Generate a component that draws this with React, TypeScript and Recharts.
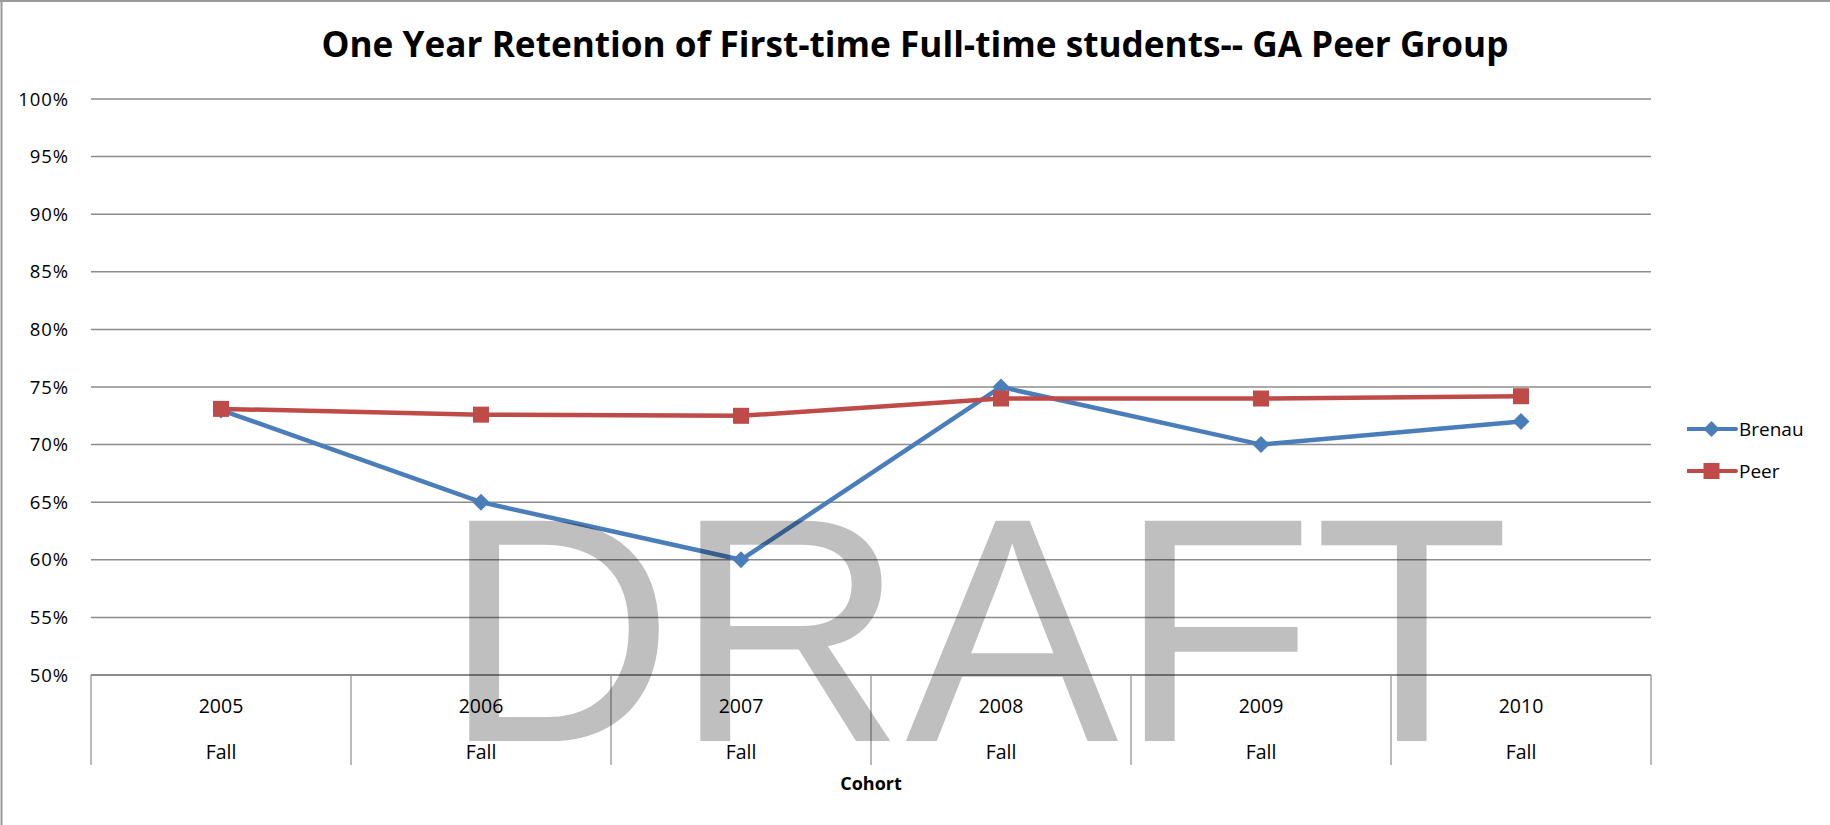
import { LineChart, Line, XAxis, YAxis, CartesianGrid, Legend, Label } from "recharts";

const years = ["2005", "2006", "2007", "2008", "2009", "2010"];
const terms = ["Fall", "Fall", "Fall", "Fall", "Fall", "Fall"];
const brenau = [73, 65, 60, 75, 70, 72];
const peer = [73.1, 72.6, 72.5, 74.0, 74.0, 74.2];
const yTicks = [50, 55, 60, 65, 70, 75, 80, 85, 90, 95, 100];

const data = years.map((year, i) => ({
  year,
  term: terms[i],
  Brenau: brenau[i],
  Peer: peer[i],
}));

const BLUE = "#4a7ebb";
const RED = "#be4b48";
const GRID = "#8c8c8c";
const FONT = "'Open Sans', sans-serif";
const BAND = 260;
const LEGEND_W = 140;

function Diamond(props: any) {
  const { cx, cy, index } = props;
  if (cx == null || cy == null) return <g key={`b-${index}`} />;
  const r = 8.5;
  return (
    <path
      key={`b-${index}`}
      d={`M${cx},${cy - r}L${cx + r},${cy}L${cx},${cy + r}L${cx - r},${cy}Z`}
      fill={BLUE}
    />
  );
}

function Square(props: any) {
  const { cx, cy, index } = props;
  if (cx == null || cy == null) return <g key={`p-${index}`} />;
  return <rect key={`p-${index}`} x={cx - 8} y={cy - 8} width={16} height={16} fill={RED} />;
}

function CohortTick(props: any) {
  const { x, y, payload, index } = props;
  const half = BAND / 2;
  return (
    <g>
      <line x1={x - half} y1={y} x2={x - half} y2={y + 90} stroke={GRID} strokeWidth={1.2} />
      {index === years.length - 1 && (
        <line x1={x + half} y1={y} x2={x + half} y2={y + 90} stroke={GRID} strokeWidth={1.2} />
      )}
      <text x={x} y={y + 30} textAnchor="middle" dominantBaseline="central" fontFamily={FONT} fontSize={19.5} fill="#000">
        {payload.value}
      </text>
      <text x={x} y={y + 76} textAnchor="middle" dominantBaseline="central" fontFamily={FONT} fontSize={19.5} fill="#000">
        {terms[index]}
      </text>
    </g>
  );
}

function LegendBox(props: any) {
  const items = props.payload || [];
  return (
    <div style={{ fontFamily: FONT, fontSize: 19, color: "#000" }}>
      {items.map((entry: any, i: number) => (
        <div key={entry.value} style={{ display: "flex", alignItems: "center", height: 42 }}>
          <svg width={52} height={20}>
            <line x1={0} y1={10} x2={49} y2={10} stroke={entry.color} strokeWidth={4} strokeLinecap="round" />
            {i === 0 ? (
              <path d="M24.5,2L32.5,10L24.5,18L16.5,10Z" fill={entry.color} />
            ) : (
              <rect x={16.5} y={2} width={16} height={16} fill={entry.color} />
            )}
          </svg>
          <span>{entry.value}</span>
        </div>
      ))}
    </div>
  );
}

export default function App() {
  return (
    <div style={{ position: "absolute", left: 0, top: 0, width: 1830, height: 825, background: "#fff" }}>
      {/* the legend box width is added to the right offset, so take it off the margin */}
      <LineChart width={1830} height={825} data={data} margin={{ top: 99, right: 179 - LEGEND_W, left: 0, bottom: 0 }}>
        <CartesianGrid vertical={false} stroke={GRID} strokeWidth={1.5} />
        <XAxis
          dataKey="year"
          height={150}
          padding={{ left: BAND / 2, right: BAND / 2 }}
          tickLine={false}
          tickSize={0}
          tickMargin={0}
          axisLine={{ stroke: GRID, strokeWidth: 2 }}
          interval={0}
          tick={(p: any) => <CohortTick {...p} />}
        >
          <Label
            value="Cohort"
            position="insideBottom"
            offset={35}
            style={{ fontFamily: FONT, fontSize: 18, fontWeight: 700, fill: "#000" }}
          />
        </XAxis>
        <YAxis
          width={91}
          domain={[50, 100]}
          ticks={yTicks}
          interval={0}
          axisLine={false}
          tickLine={false}
          tickSize={0}
          tickMargin={22}
          tickFormatter={(v: number) => `${v}%`}
          tick={{ fontFamily: FONT, fontSize: 18.5, fill: "#000", letterSpacing: 0.9 }}
        />
        <Legend
          layout="horizontal"
          verticalAlign="middle"
          align="right"
          content={<LegendBox />}
          wrapperStyle={{ left: 1687, top: 408, right: "auto", bottom: "auto", width: LEGEND_W }}
        />
        <Line
          dataKey="Brenau"
          stroke={BLUE}
          strokeWidth={4.5}
          dot={(p: any) => <Diamond {...p} />}
          activeDot={false}
          isAnimationActive={false}
        />
        <Line
          dataKey="Peer"
          stroke={RED}
          strokeWidth={4.5}
          dot={(p: any) => <Square {...p} />}
          activeDot={false}
          isAnimationActive={false}
        />
      </LineChart>
      <svg
        width={1830}
        height={825}
        style={{ position: "absolute", left: 0, top: 0, pointerEvents: "none" }}
      >
        <line x1={0} y1={1} x2={1830} y2={1} stroke="#999" strokeWidth={2} />
        <line x1={1.5} y1={0} x2={1.5} y2={825} stroke="#999" strokeWidth={2} />
        <text
          x={915}
          y={57}
          textAnchor="middle"
          fontFamily={FONT}
          fontWeight={700}
          fontSize={36}
          textLength={1187}
          lengthAdjust="spacingAndGlyphs"
          fill="#000"
        >
          One Year Retention of First-time Full-time students-- GA Peer Group
        </text>
        <text
          x={443}
          y={741}
          fontFamily="'Liberation Sans', Arial, sans-serif"
          fontSize={320}
          fill="#000"
          fillOpacity={0.25}
        >
          DRAFT
        </text>
      </svg>
    </div>
  );
}
